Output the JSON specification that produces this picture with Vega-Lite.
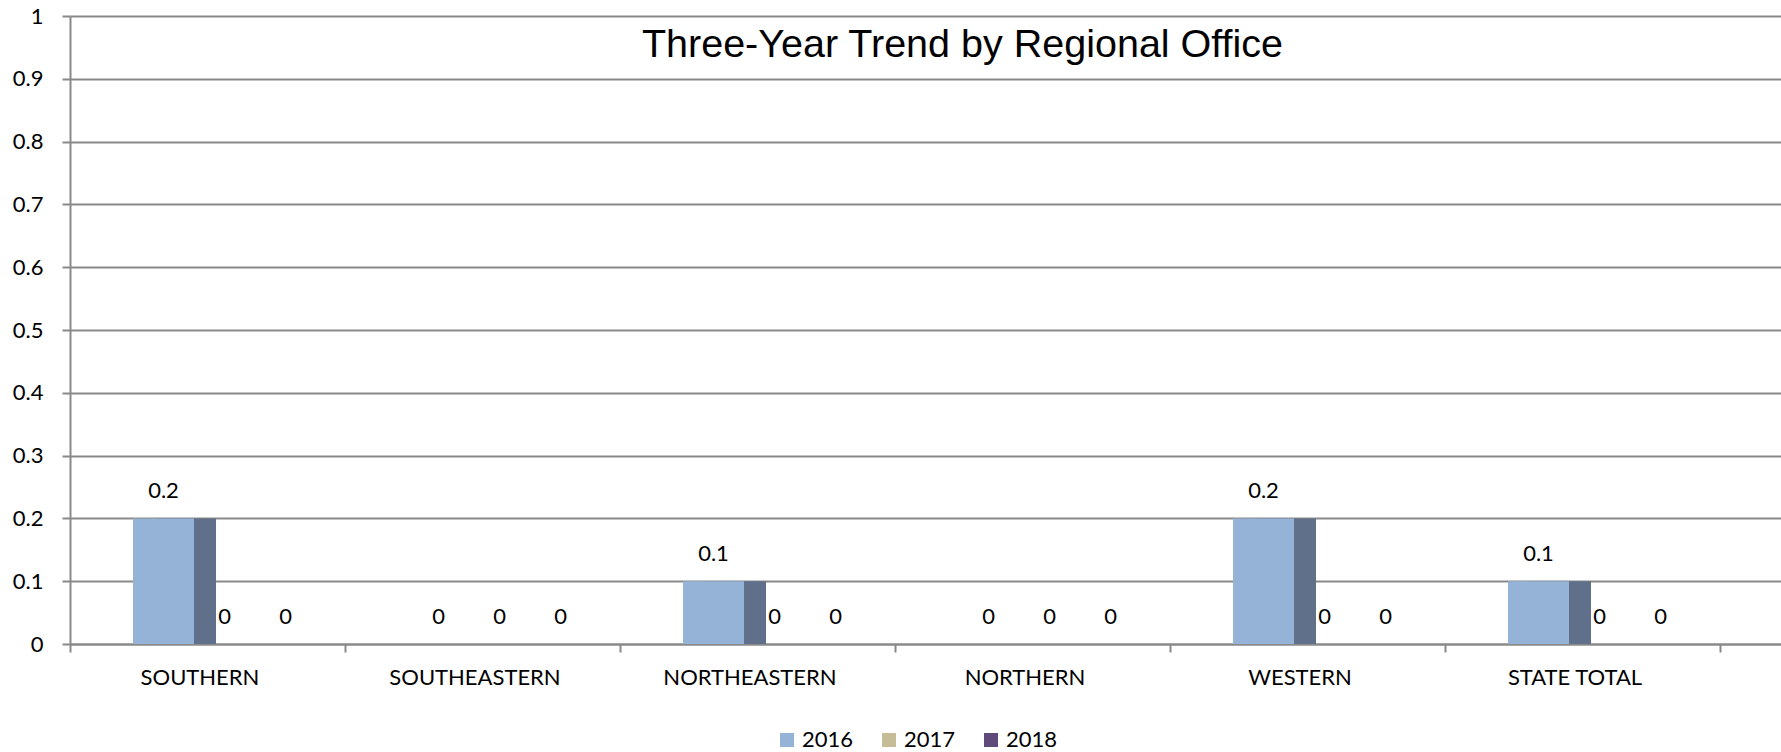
{
  "$schema": "https://vega.github.io/schema/vega-lite/v6.json",
  "width": 1711,
  "height": 628,
  "autosize": {"type": "none"},
  "padding": {"left": 70, "top": 16, "right": 0, "bottom": 108},
  "background": "white",
  "title": {
    "text": "Three-Year Trend by Regional Office",
    "font": "Liberation Sans",
    "fontSize": 39.5,
    "fontWeight": "normal",
    "color": "#000000",
    "anchor": "middle",
    "frame": "group",
    "dx": 37,
    "offset": -60,
    "orient": "top"
  },
  "data": {
    "values": [
      {"region": "SOUTHERN", "year": "2016", "value": 0.2},
      {"region": "SOUTHERN", "year": "2017", "value": 0},
      {"region": "SOUTHERN", "year": "2018", "value": 0},
      {"region": "SOUTHEASTERN", "year": "2016", "value": 0},
      {"region": "SOUTHEASTERN", "year": "2017", "value": 0},
      {"region": "SOUTHEASTERN", "year": "2018", "value": 0},
      {"region": "NORTHEASTERN", "year": "2016", "value": 0.1},
      {"region": "NORTHEASTERN", "year": "2017", "value": 0},
      {"region": "NORTHEASTERN", "year": "2018", "value": 0},
      {"region": "NORTHERN", "year": "2016", "value": 0},
      {"region": "NORTHERN", "year": "2017", "value": 0},
      {"region": "NORTHERN", "year": "2018", "value": 0},
      {"region": "WESTERN", "year": "2016", "value": 0.2},
      {"region": "WESTERN", "year": "2017", "value": 0},
      {"region": "WESTERN", "year": "2018", "value": 0},
      {"region": "STATE TOTAL", "year": "2016", "value": 0.1},
      {"region": "STATE TOTAL", "year": "2017", "value": 0},
      {"region": "STATE TOTAL", "year": "2018", "value": 0}
    ]
  },
  "encoding": {
    "x": {
      "field": "region",
      "type": "nominal",
      "sort": ["SOUTHERN", "SOUTHEASTERN", "NORTHEASTERN", "NORTHERN", "WESTERN", "STATE TOTAL"],
      "scale": {"paddingInner": 0, "paddingOuter": 0.1109, "align": 0},
      "axis": {
        "title": null,
        "labelAngle": 0,
        "labelFont": "Lato",
        "labelFontSize": 22,
        "labelColor": "#000000",
        "labelPadding": 15,
        "labelOffset": -8,
        "tickBand": "extent",
        "tickSize": 8,
        "tickWidth": 2,
        "tickColor": "#898989",
        "domainColor": "#898989",
        "domainWidth": 2,
        "grid": false
      }
    },
    "y": {
      "field": "value",
      "type": "quantitative",
      "scale": {"domain": [0, 1], "nice": false},
      "axis": {
        "title": null,
        "values": [0, 0.1, 0.2, 0.3, 0.4, 0.5, 0.6, 0.7, 0.8, 0.9, 1],
        "format": ".1~f",
        "labelFont": "Lato",
        "labelFontSize": 22,
        "labelColor": "#000000",
        "labelPadding": 19,
        "tickSize": 8,
        "tickWidth": 2,
        "tickColor": "#898989",
        "domainColor": "#898989",
        "domainWidth": 2,
        "grid": true,
        "gridColor": "#898989",
        "gridWidth": 2
      }
    }
  },
  "layer": [
    {
      "transform": [{"filter": "datum.year == '2016'"}],
      "mark": {"type": "bar", "color": "#60708a", "width": 61, "xOffset": -22}
    },
    {
      "mark": {"type": "bar"},
      "encoding": {
        "xOffset": {
          "field": "year",
          "type": "nominal",
          "sort": ["2016", "2017", "2018"],
          "scale": {"paddingInner": 0, "paddingOuter": 0.754, "align": 0.685}
        },
        "color": {
          "field": "year",
          "type": "nominal",
          "scale": {"domain": ["2016", "2017", "2018"], "range": ["#95b3d7", "#c4bd97", "#604a7b"]},
          "legend": {
            "title": null,
            "orient": "none",
            "legendX": 706,
            "legendY": 713,
            "direction": "horizontal",
            "symbolType": "square",
            "symbolSize": 196,
            "symbolStrokeWidth": 0,
            "labelFont": "Lato",
            "labelFontSize": 22,
            "labelColor": "#000000",
            "labelOffset": 4,
            "columnPadding": 24
          }
        }
      }
    },
    {
      "mark": {"type": "text", "font": "Lato", "fontSize": 22, "color": "#000000", "baseline": "middle", "dy": -27},
      "encoding": {
        "xOffset": {
          "field": "year",
          "type": "nominal",
          "sort": ["2016", "2017", "2018"]
        },
        "text": {"field": "value", "type": "quantitative"}
      }
    }
  ],
  "config": {"view": {"stroke": null}}
}
